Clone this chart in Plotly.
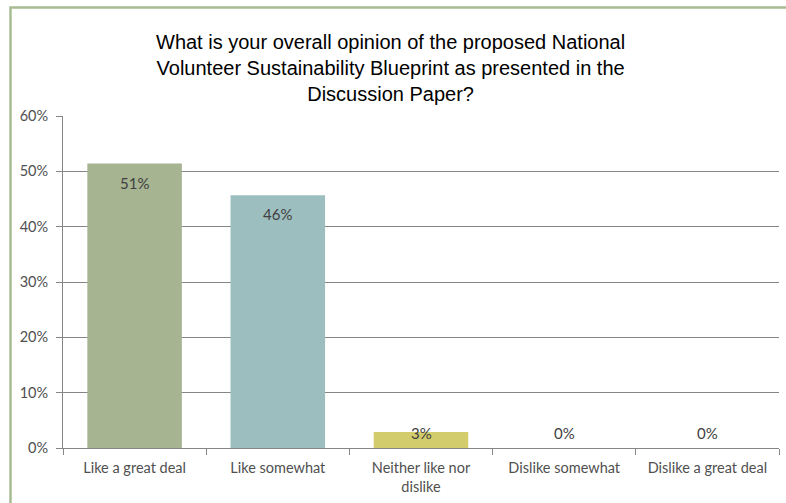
import plotly.graph_objects as go

# Survey responses
categories = ["Like a great deal", "Like somewhat", "Neither like nor<br>dislike",
              "Dislike somewhat", "Dislike a great deal"]
shares = [0.514, 0.457, 0.029, 0.0, 0.0]
bar_colors = ["#a6b492", "#9dbebe", "#d2cc6c", "#9dbebe", "#9dbebe"]

y_ticks = [0, 0.1, 0.2, 0.3, 0.4, 0.5, 0.6]
y_tick_text = ["0%", "10%", "20%", "30%", "40%", "50%", "60%"]

title_text = ("What is your overall opinion of the proposed National<br>"
              "Volunteer Sustainability Blueprint as presented in the<br>"
              "Discussion Paper?")

W, H = 786, 503
L, R, T, B = 63, 7, 116, 55
plot_h = H - T - B

fig = go.Figure()
fig.add_trace(go.Bar(
    x=categories, y=shares,
    marker=dict(color=bar_colors, line=dict(width=0)),
    width=0.66,
    hoverinfo="skip",
))

# value labels: inside the top of tall bars, just above the axis for small ones
label_font = dict(family="Lato", size=15, color="#404040")
for cat, v in zip(categories, shares):
    px_h = v / 0.6 * plot_h
    if px_h > 40:
        fig.add_annotation(x=cat, y=v, text=f"{v:.0%}", showarrow=False,
                           yanchor="middle", yshift=-19, font=label_font)
    else:
        fig.add_annotation(x=cat, y=0, text=f"{v:.0%}", showarrow=False,
                           yanchor="middle", yshift=15, font=label_font)

# title
fig.add_annotation(xref="paper", yref="paper", x=(390 - L) / (W - L - R),
                   y=1 + (T - 68) / plot_h, text=title_text, showarrow=False,
                   xanchor="center", yanchor="middle", align="center",
                   font=dict(family="Liberation Sans", size=20, color="#000000"))

# outer chart frame
fig.add_shape(type="rect", xref="paper", yref="paper",
              x0=(10.5 - L) / (W - L - R), x1=1.1,
              y0=-0.3, y1=1 + (T - 7.5) / plot_h,
              line=dict(color="#a8bc94", width=2.5), fillcolor="rgba(0,0,0,0)",
              layer="below")

tick_font = dict(family="Lato", size=14.5, color="#505050")
fig.update_layout(
    width=W, height=H,
    margin=dict(l=L, r=R, t=T, b=B),
    paper_bgcolor="white", plot_bgcolor="white",
    showlegend=False,
    bargap=0.34,
    xaxis=dict(
        type="category", showgrid=False, showline=True, linecolor="#868686",
        linewidth=1, ticks="outside", tickson="boundaries", ticklen=6,
        tickcolor="#868686", tickfont=tick_font, fixedrange=True,
        ticklabelstandoff=7,
    ),
    yaxis=dict(
        range=[0, 0.6], tickvals=y_ticks, ticktext=y_tick_text,
        showgrid=True, gridcolor="#868686", gridwidth=1,
        showline=True, linecolor="#868686", linewidth=1,
        ticks="outside", ticklen=6, tickcolor="#868686",
        tickfont=tick_font, zeroline=False, fixedrange=True,
        ticklabelstandoff=5,
    ),
)

fig.write_html("out.html")
